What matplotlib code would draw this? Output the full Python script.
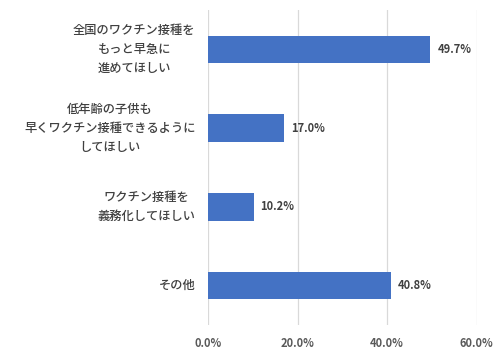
import matplotlib
matplotlib.use("Agg")
import matplotlib.pyplot as plt
from matplotlib.ticker import FuncFormatter

plt.rcParams['font.family'] = ['Noto Sans CJK JP', 'DejaVu Sans']

categories = ["全国のワクチン接種を\nもっと早急に\n進めてほしい",
              "低年齢の子供も\n早くワクチン接種できるように\nしてほしい",
              "ワクチン接種を\n義務化してほしい",
              "その他"]
values = [49.7, 17.0, 10.2, 40.8]
xticks = [0, 20, 40, 60]

fig = plt.figure(figsize=(5.0, 3.57), dpi=100)
ax = fig.add_axes([0.416, 0.09, 0.537, 0.882])

ypos = list(range(len(categories)))
ax.barh(ypos, values, height=0.35, color='#4472C4', zorder=3)
ax.set_ylim(len(categories) - 0.5, -0.5)
ax.set_xlim(0, 60)
ax.set_xticks(xticks)
ax.xaxis.set_major_formatter(FuncFormatter(lambda v, p: f"{v:.1f}%"))
ax.grid(axis='x', color='#D9D9D9', linewidth=0.9, zorder=0)
for s in ax.spines.values():
    s.set_visible(False)
ax.tick_params(axis='both', length=0)
ax.tick_params(axis='x', pad=9, labelsize=8, labelcolor='#595959')
for lbl in ax.get_xticklabels():
    lbl.set_fontweight('bold')
ax.set_yticks(ypos)
ax.set_yticklabels([])
for y, c in zip(ypos, categories):
    ax.annotate(c, xy=(0, y), xycoords=('axes fraction', 'data'),
                xytext=(-9, 0), textcoords='offset points',
                ha='right', va='center', multialignment='center',
                fontsize=8.8, fontweight='medium', color='#404040', linespacing=1.6)

for y, v in zip(ypos, values):
    ax.annotate(f"{v:.1f}%", xy=(v, y), xytext=(5, 0), textcoords='offset points',
                ha='left', va='center', fontsize=8, fontweight='bold', color='#404040')

fig.savefig('out.png', dpi=100)
